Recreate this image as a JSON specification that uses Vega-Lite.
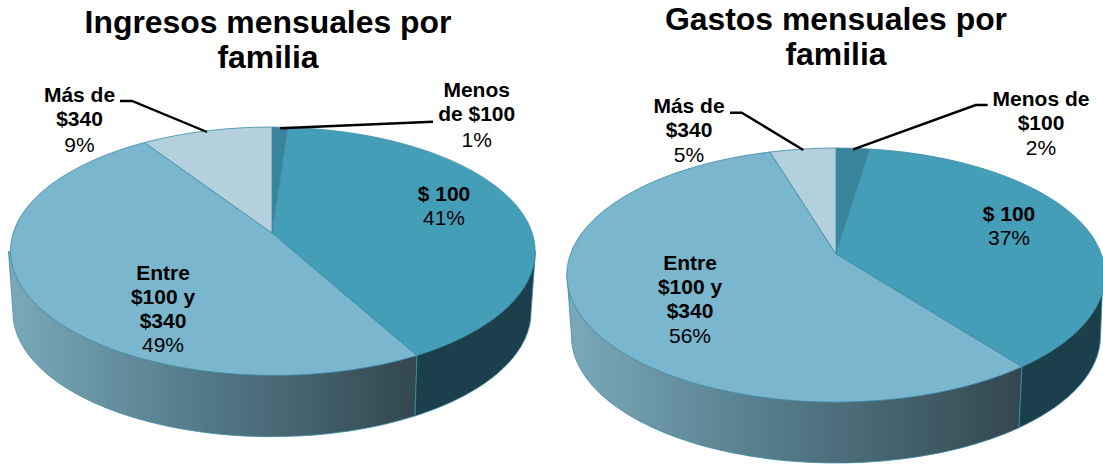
{
"$schema":"https://vega.github.io/schema/vega-lite/v6.json",
"background":"white",
"padding":{"left":0,"top":4,"right":0,"bottom":0},
"spacing":21,
"config":{"view":{"stroke":null},"font":"Liberation Sans","title":{"font":"Liberation Sans","fontSize":31.9,"fontWeight":"bold","lineHeight":35,"color":"#000","anchor":"middle","frame":"group"}},
"datasets":{
"ingresos":[
{"categoria":"Menos de $100","etiqueta":"Menos\nde $100","pct":0.01},
{"categoria":"$ 100","etiqueta":"$ 100","pct":0.41},
{"categoria":"Entre $100 y $340","etiqueta":"Entre\n$100 y\n$340","pct":0.49},
{"categoria":"Más de $340","etiqueta":"Más de\n$340","pct":0.09}],
"gastos":[
{"categoria":"Menos de $100","etiqueta":"Menos de\n$100","pct":0.02},
{"categoria":"$ 100","etiqueta":"$ 100","pct":0.37},
{"categoria":"Entre $100 y $340","etiqueta":"Entre\n$100 y\n$340","pct":0.56},
{"categoria":"Más de $340","etiqueta":"Más de\n$340","pct":0.05}]
},
"resolve":{"scale":{"x":"independent","y":"independent","shape":"independent"}},
"hconcat":[
{"width":544,"height":390,
"title":{"text":["Ingresos mensuales por","familia"],"dx":-4,"offset":-1},
"data":{"name":"ingresos"},
"resolve":{"scale":{"y":"independent"}},
"layer":[
{"transform":[{"filter":"datum.categoria=='Entre $100 y $340'"}],
"mark":{"type":"point","filled":true,"opacity":1,"size":4,"stroke":"#3E8BA6","strokeWidth":0.8,"color":{"gradient":"linear","x1":0,"y1":0,"x2":1,"y2":0,"stops":[{"offset":0,"color":"#7BA9BA"},{"offset":0.45,"color":"#557C8A"},{"offset":1,"color":"#33474F"}]}},
"encoding":{"shape":{"value":"M-263.5,-17.5L-259,43.5A259,124.5 0 0 0 143,147L145,86.5L145,-17.5Z"}}},
{"transform":[{"filter":"datum.categoria=='$ 100'"}],
"mark":{"type":"point","filled":true,"opacity":1,"size":4,"color":"#1B3F4B","stroke":"#3E8BA6","strokeWidth":0.8},
"encoding":{"shape":{"value":"M145,86.5L143,147A259,124.5 0 0 0 259,43.5L263.5,-17.5Z"}}},
{"mark":{"type":"point","filled":true,"opacity":1,"size":4,"stroke":"#3E8BA6","strokeWidth":0.8},
"encoding":{
"color":{"field":"categoria","type":"nominal","legend":null,"scale":{"domain":["Menos de $100","$ 100","Entre $100 y $340","Más de $340"],"range":["#3A849B","#459EB8","#7AB6CD","#B3D0DC"]}},
"shape":{"field":"categoria","type":"nominal","legend":null,"scale":{"domain":["Menos de $100","$ 100","Entre $100 y $340","Más de $340"],"range":[
"M0,-36L0,-142A263.5,124.5 0 0 1 16,-141.6Z",
"M0,-36L16,-141.6A263.5,124.5 0 0 1 145,86.5Z",
"M0,-36L145,86.5A263.5,124.5 0 1 1 -127.5,-126.5Z",
"M0,-36L-127.5,-126.5A263.5,124.5 0 0 1 0,-142Z"]}}}},
{"transform":[{"filter":"datum.categoria=='Más de $340'"}],
"mark":{"type":"point","filled":false,"opacity":1,"size":4,"stroke":"#000","strokeWidth":2.4},
"encoding":{"shape":{"value":"M-152,-168L-140,-168L-65,-137"}}},
{"transform":[{"filter":"datum.categoria=='Menos de $100'"}],
"mark":{"type":"point","filled":false,"opacity":1,"size":4,"stroke":"#000","strokeWidth":2.4},
"encoding":{"shape":{"value":"M8,-140.7L161,-147.3"}}},
{"mark":{"type":"text","baseline":"alphabetic","align":"center","fontSize":21,"fontWeight":"bold","lineHeight":24,"lineBreak":"\n","color":"#000"},
"encoding":{
"x":{"field":"pct","type":"quantitative","axis":null,"scale":{"domain":[0.01,0.09,0.41,0.49],"range":[476.7,79.5,444,163],"zero":false,"nice":false}},
"y":{"field":"pct","type":"quantitative","axis":null,"scale":{"domain":[0.01,0.09,0.41,0.49],"range":[23,28,127,206],"zero":false,"nice":false}},
"text":{"field":"etiqueta"}}},
{"mark":{"type":"text","baseline":"alphabetic","align":"center","fontSize":21,"color":"#000"},
"encoding":{
"x":{"field":"pct","type":"quantitative","axis":null,"scale":{"domain":[0.01,0.09,0.41,0.49],"range":[476.7,79.5,444,163],"zero":false,"nice":false}},
"y":{"field":"pct","type":"quantitative","axis":null,"scale":{"domain":[0.01,0.09,0.41,0.49],"range":[73,78,151,278],"zero":false,"nice":false}},
"text":{"field":"pct","type":"quantitative","format":".0%"}}}
]},
{"width":534,"height":390,
"title":{"text":["Gastos mensuales por","familia"],"dx":0,"offset":2},
"data":{"name":"gastos"},
"resolve":{"scale":{"y":"independent"}},
"layer":[
{"transform":[{"filter":"datum.categoria=='Entre $100 y $340'"}],
"mark":{"type":"point","filled":true,"opacity":1,"size":4,"stroke":"#3E8BA6","strokeWidth":0.8,"color":{"gradient":"linear","x1":0,"y1":0,"x2":1,"y2":0,"stops":[{"offset":0,"color":"#7BA9BA"},{"offset":0.45,"color":"#557C8A"},{"offset":1,"color":"#33474F"}]}},
"encoding":{"shape":{"value":"M-269,6L-264.5,67A264.5,127 0 0 0 183,158.7L186,97.8L186,6Z"}}},
{"transform":[{"filter":"datum.categoria=='$ 100'"}],
"mark":{"type":"point","filled":true,"opacity":1,"size":4,"color":"#1B3F4B","stroke":"#3E8BA6","strokeWidth":0.8},
"encoding":{"shape":{"value":"M186,97.8L183,158.7A264.5,127 0 0 0 264.5,67L267,6Z"}}},
{"mark":{"type":"point","filled":true,"opacity":1,"size":4,"stroke":"#3E8BA6","strokeWidth":0.8},
"encoding":{
"color":{"field":"categoria","type":"nominal","legend":null,"scale":{"domain":["Menos de $100","$ 100","Entre $100 y $340","Más de $340"],"range":["#3A849B","#459EB8","#7AB6CD","#B3D0DC"]}},
"shape":{"field":"categoria","type":"nominal","legend":null,"scale":{"domain":["Menos de $100","$ 100","Entre $100 y $340","Más de $340"],"range":[
"M0,-15L0,-121A269,127 0 0 1 34,-120Z",
"M0,-15L34,-120A269,127 0 0 1 267,-9.4L267,21.4A269,127 0 0 1 186,97.8Z",
"M0,-15L186,97.8A269,127 0 1 1 -66,-117Z",
"M0,-15L-66,-117A269,127 0 0 1 0,-121Z"]}}}},
{"transform":[{"filter":"datum.categoria=='Más de $340'"}],
"mark":{"type":"point","filled":false,"opacity":1,"size":4,"stroke":"#000","strokeWidth":2.4},
"encoding":{"shape":{"value":"M-106,-156.3L-94.3,-156.3L-32.7,-119"}}},
{"transform":[{"filter":"datum.categoria=='Menos de $100'"}],
"mark":{"type":"point","filled":false,"opacity":1,"size":4,"stroke":"#000","strokeWidth":2.4},
"encoding":{"shape":{"value":"M17.3,-119.7L139.7,-164L151.7,-164"}}},
{"mark":{"type":"text","baseline":"alphabetic","align":"center","fontSize":21,"fontWeight":"bold","lineHeight":24,"lineBreak":"\n","color":"#000"},
"encoding":{
"x":{"field":"pct","type":"quantitative","axis":null,"scale":{"domain":[0.02,0.05,0.37,0.56],"range":[472,120,440,121],"zero":false,"nice":false}},
"y":{"field":"pct","type":"quantitative","axis":null,"scale":{"domain":[0.02,0.05,0.37,0.56],"range":[32,39,147,196],"zero":false,"nice":false}},
"text":{"field":"etiqueta"}}},
{"mark":{"type":"text","baseline":"alphabetic","align":"center","fontSize":21,"color":"#000"},
"encoding":{
"x":{"field":"pct","type":"quantitative","axis":null,"scale":{"domain":[0.02,0.05,0.37,0.56],"range":[472,120,440,121],"zero":false,"nice":false}},
"y":{"field":"pct","type":"quantitative","axis":null,"scale":{"domain":[0.02,0.05,0.37,0.56],"range":[81,88,171,269],"zero":false,"nice":false}},
"text":{"field":"pct","type":"quantitative","format":".0%"}}}
]}
]
}
